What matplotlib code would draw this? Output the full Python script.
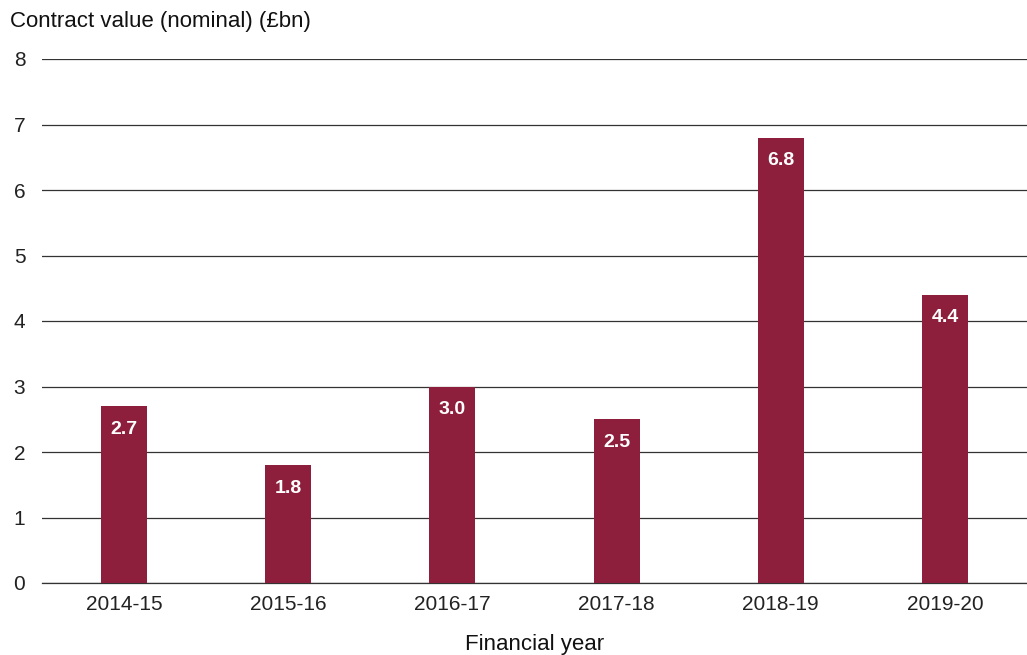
import matplotlib.pyplot as plt

years = ["2014-15", "2015-16", "2016-17", "2017-18", "2018-19", "2019-20"]
values = [2.7, 1.8, 3.0, 2.5, 6.8, 4.4]

plt.rcParams['font.family'] = ['Liberation Sans', 'DejaVu Sans']

fig = plt.figure(figsize=(10.27, 6.55), dpi=100)
ax = fig.add_axes([42 / 1027, 72 / 655, 1 - 42 / 1027, 524 / 655])

x = range(len(years))
bars = ax.bar(x, values, width=0.28, color="#8e1f3c", zorder=3)

for b, v in zip(bars, values):
    ax.annotate(f"{v:.1f}", (b.get_x() + b.get_width() / 2, v),
                xytext=(0, -16.5), textcoords="offset points",
                ha="center", va="center", color="white",
                fontsize=14, fontweight="bold", zorder=4)

ax.set_xlim(-0.5, 5.5)
ax.set_ylim(0, 8)
ax.set_yticks(range(0, 9))
ax.set_xticks(list(x))
ax.set_xticklabels(years)
ax.yaxis.grid(True, color="#333333", linewidth=0.9)
ax.set_axisbelow(True)
ax.axhline(0, color="#333333", linewidth=0.9, zorder=2, clip_on=False)
for s in ax.spines.values():
    s.set_visible(False)
ax.tick_params(axis="both", length=0, labelsize=15, colors="#222222")
ax.tick_params(axis="y", pad=12)
ax.tick_params(axis="x", pad=9)

ax.set_xlabel("Financial year", fontsize=16, color="#111111", labelpad=14)
fig.text(10 / 1027, 1 - 21 / 655, "Contract value (nominal) (£bn)",
         fontsize=16, color="#111111", va="center", ha="left")

fig.savefig("out.png", dpi=100)
